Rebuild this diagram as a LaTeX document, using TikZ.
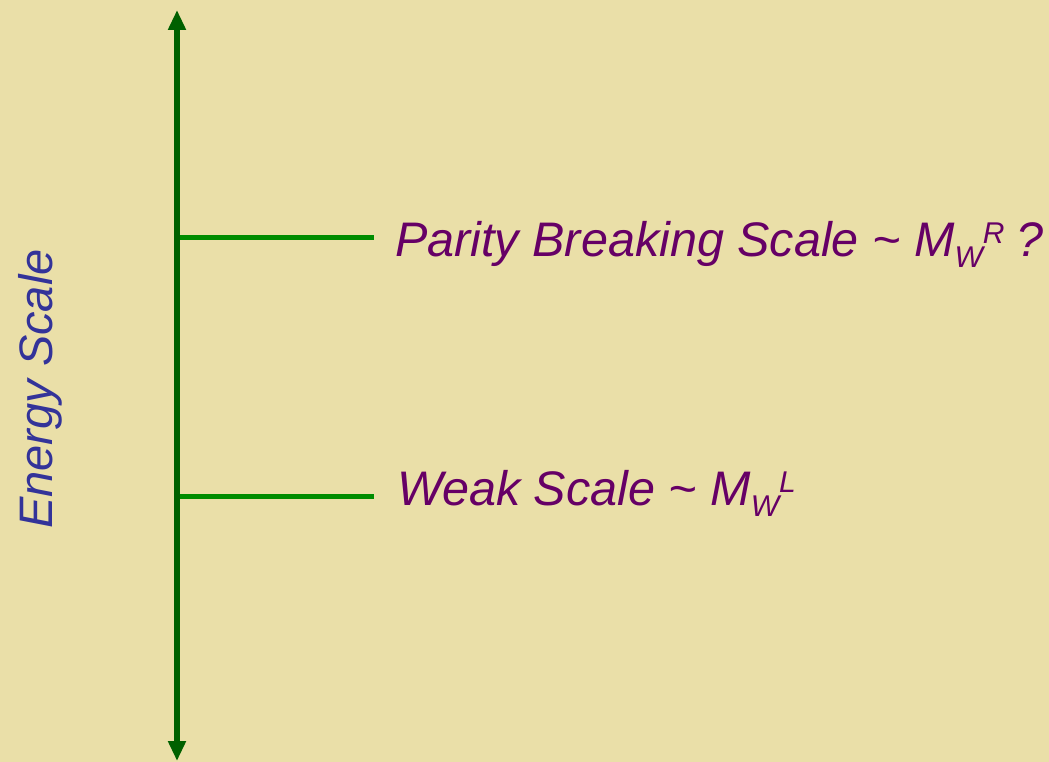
\documentclass[tikz,border=0pt]{standalone}
\usepackage{fontspec}
\setmainfont{Liberation Sans}
\usetikzlibrary{arrows.meta}
\definecolor{bg}{RGB}{234,223,168}
\definecolor{axisgreen}{RGB}{0,96,0}
\definecolor{levelgreen}{RGB}{0,140,0}
\definecolor{labelpurple}{RGB}{102,0,102}
\definecolor{axisblue}{RGB}{51,51,153}
\newcommand{\subW}{{\fontsize{30}{30}\selectfont\raisebox{-11pt}{W}}}
\newcommand{\supX}[1]{{\fontsize{30}{30}\selectfont\raisebox{13pt}{#1}}}
\begin{document}
\begin{tikzpicture}[x=1pt,y=-1pt,
  axisline/.style={axisgreen,line width=5.5pt,{Triangle[width=17pt,length=20pt]}-{Triangle[width=17pt,length=20pt]}},
  levelline/.style={levelgreen,line width=5pt},
  levellabel/.style={labelpurple,anchor=base west,inner sep=0pt,font=\fontsize{48.5}{48}\selectfont\itshape},
  axislabel/.style={axisblue,anchor=base west,inner sep=0pt,rotate=90,font=\fontsize{47}{47}\selectfont\itshape}]
\fill[bg] (0,0) rectangle (1049,762);
\useasboundingbox (0,0) rectangle (1049,762);
\coordinate (top) at (177,10);
\coordinate (bot) at (177,761);
\coordinate (p1) at (177,237.5);
\coordinate (p2) at (374,237.5);
\coordinate (w1) at (177,496);
\coordinate (w2) at (374,496);
\draw[levelline] (p1) -- (p2);
\draw[levelline] (w1) -- (w2);
\draw[axisline] (top) -- (bot);
\node[levellabel] (parity) at (395,256) {Parity Breaking Scale \textasciitilde{} M\subW\supX{R}\kern-1pt{} ?};
\node[levellabel] (weak) at (397,505) {Weak Scale \textasciitilde{} M\subW\supX{L}};
\node[axislabel] (energy) at (52,529) {Energy Scale};
\end{tikzpicture}
\end{document}
